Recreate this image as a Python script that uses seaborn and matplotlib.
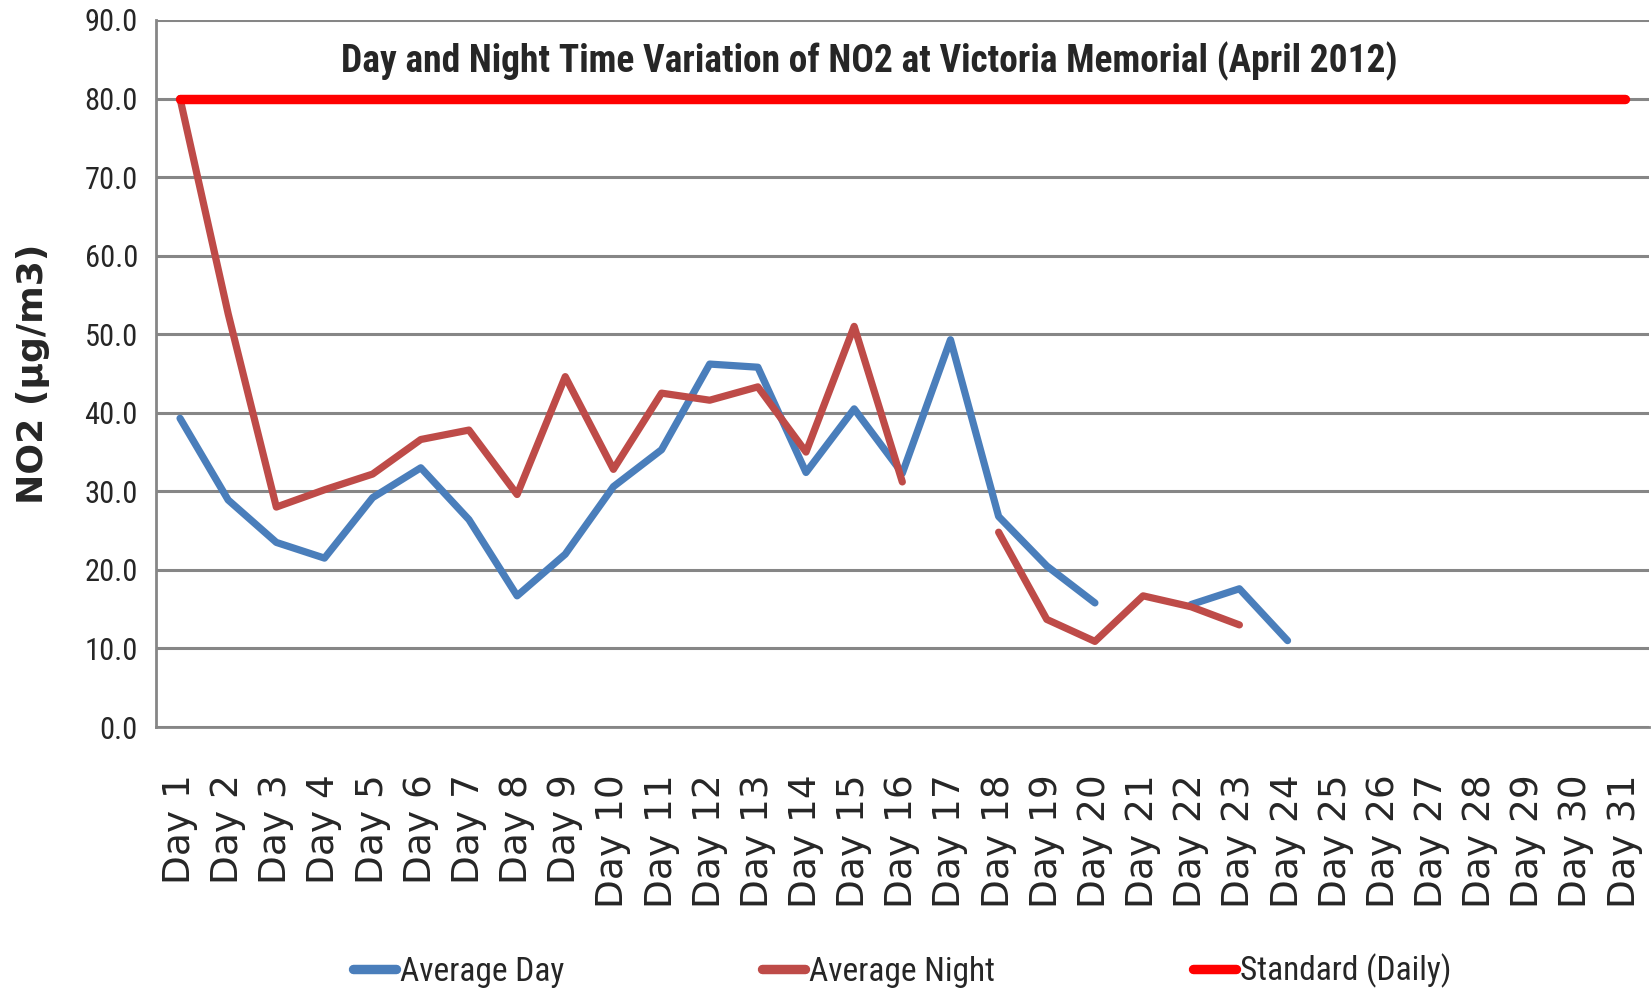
import numpy as np
import pandas as pd
import seaborn as sns
import matplotlib.pyplot as plt
from matplotlib import font_manager
from matplotlib.ticker import FixedLocator, FormatStrFormatter

# Tageswerte NO2 (µg/m3), April 2012, Victoria Memorial
tage = [f"Day {i}" for i in range(1, 32)]
nan = np.nan
average_day = [39.3, 28.9, 23.5, 21.5, 29.2, 33.0, 26.4, 16.7, 22.0, 30.6,
               35.3, 46.2, 45.8, 32.4, 40.5, 32.3, 49.3, 26.8, 20.5, 15.8,
               nan, 15.6, 17.6, 11.0, nan, nan, nan, nan, nan, nan, nan]
average_night = [80.0, 52.6, 28.0, 30.2, 32.2, 36.6, 37.8, 29.6, 44.6, 32.8,
                 42.5, 41.6, 43.3, 35.0, 51.0, 31.2, nan, 24.8, 13.7, 10.9,
                 16.7, 15.3, 13.0, nan, nan, nan, nan, nan, nan, nan, nan]
standard = [80.0] * 31

serien = {"Average Day": average_day,
          "Average Night": average_night,
          "Standard (Daily)": standard}
farben = {"Average Day": "#4A7EBB",
          "Average Night": "#BE4B48",
          "Standard (Daily)": "#FF0000"}

# Long-Format, Lücken (NaN) trennen die Linie in Segmente
zeilen = []
for name, werte in serien.items():
    segment = 0
    for i, w in enumerate(werte):
        if np.isnan(w):
            segment += 1
            continue
        zeilen.append({"tag": i + 1, "wert": w, "serie": name,
                       "segment": f"{name}-{segment}"})
df = pd.DataFrame(zeilen)

# schmale Schrift wie Calibri suchen
vorhanden = {f.name for f in font_manager.fontManager.ttflist}
kandidaten = ["Liberation Sans Narrow", "Roboto Condensed", "Archivo Narrow",
              "PT Sans Narrow", "Open Sans Condensed", "Fira Sans Condensed",
              "Asap Condensed", "IBM Plex Sans Condensed", "Barlow Condensed"]
schmal_name = next((k for k in kandidaten if k in vorhanden), "DejaVu Sans")
schmal = [schmal_name, "DejaVu Sans"]

sns.set_style("white")

fig = plt.figure(figsize=(16.52, 9.98), dpi=100)
ax = fig.add_axes([0.0944, 0.2715, 0.9036, 0.7085])

sns.lineplot(data=df[df.serie != "Standard (Daily)"], x="tag", y="wert",
             hue="serie", units="segment", estimator=None, palette=farben,
             linewidth=5.2, ax=ax, legend=False, zorder=3)
sns.lineplot(data=df[df.serie == "Standard (Daily)"], x="tag", y="wert",
             hue="serie", units="segment", estimator=None, palette=farben,
             linewidth=6.8, ax=ax, legend=False, zorder=4)

ax.set_xlim(0.5, 31.5)
ax.set_ylim(0, 90)
ax.yaxis.set_major_locator(FixedLocator(np.arange(0, 91, 10)))
ax.yaxis.set_major_formatter(FormatStrFormatter("%.1f"))
ax.grid(axis="y", color="#868686", linewidth=2.2)
ax.grid(axis="x", visible=False)
ax.set_axisbelow(True)

# Kategorie-Beschriftungen mittig, Teilstriche zwischen den Kategorien
ax.set_xticks(range(1, 32))
ax.set_xticklabels(tage, rotation=90, va="top")
for lab in ax.get_xticklabels():
    lab.set_family("DejaVu Sans")
    lab.set_fontsize(27)
ax.set_xticks(np.arange(0.5, 32, 1), minor=True)
ax.tick_params(axis="x", which="major", length=0, pad=34)
ax.tick_params(axis="x", which="minor", length=15, width=1.5, color="#868686")
ax.tick_params(axis="y", length=9, width=2, color="#868686", pad=4)
for lab in ax.get_yticklabels():
    lab.set_family(schmal)
    lab.set_fontsize(22)

for s in ["top", "right"]:
    ax.spines[s].set_visible(False)
for s in ["left", "bottom"]:
    ax.spines[s].set_color("#868686")
    ax.spines[s].set_linewidth(2)

ax.set_xlabel("")
ax.set_ylabel("NO2 (µg/m3)", fontsize=26, fontweight="bold", family="DejaVu Sans", labelpad=25)

ax.text(0.478, 0.970, "Day and Night Time Variation of NO2 at Victoria Memorial (April 2012)",
        transform=ax.transAxes, ha="center", va="top", fontsize=27,
        fontweight="bold", family=schmal)

griffe = [plt.Line2D([], [], color=farben[n], linewidth=6.8, solid_capstyle="round")
          for n in serien]
fig.legend(griffe, list(serien), loc="center", bbox_to_anchor=(0.546, 0.027),
           ncol=3, frameon=False, prop={"family": schmal, "size": 24},
           handlelength=1.3, handletextpad=0.1, columnspacing=5.95)

fig.savefig("out.png", dpi=100)
